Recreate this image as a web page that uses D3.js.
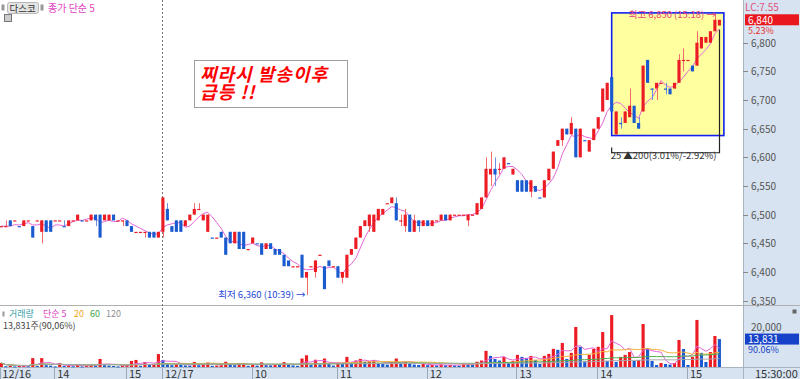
<!DOCTYPE html>
<html>
<head>
<meta charset="utf-8">
<title>다스코 3분봉</title>
<style>
  body, html { margin: 0; padding: 0; background: #fff; }
  #svg { display: block; }
</style>
</head>
<body>
<svg id="svg" width="800" height="379" font-family="'Noto Sans CJK KR', 'DejaVu Sans', sans-serif"></svg>
<script src="https://cdn.jsdelivr.net/npm/d3@7"></script>
<script>
// 3-minute candles, 12/16 afternoon to 12/17 15:21
const opens = [
  6480,6480,6490,6490,6480,6480,6490,6480,6490,6470,6490,6490,6490,6490,6480,6480,6490,6490,6490,6490,
  6490,6500,6500,6490,6490,6500,6490,6490,6490,6480,6470,6470,6470,6470,6470,6460,
  6470,6510,6480,6490,6490,6480,6490,6500,6510,6490,6470,6460,6460,6470,6460,6470,6450,6470,6470,6440,
  6450,6450,6450,6440,6450,6440,6440,6430,6420,6410,6410,6430,6390,6410,6400,6430,6410,6420,6410,6410,
  6390,6390,6430,6440,6460,6480,6480,6470,6490,6500,6520,6520,6520,6490,6480,6500,6470,6490,6480,6490,
  6480,6490,6490,6500,6490,6500,6500,6500,6490,6500,6500,6510,6530,6570,6580,6580,6580,6590,6570,6560,
  6560,6560,6540,6550,6530,6530,6560,6580,6620,6630,6650,6640,6650,6600,6630,6610,6630,6650,6680,6700,
  6740,6640,6660,6660,6670,6690,6660,6680,6770,6720,6720,6730,6720,6720,6720,6730,6770,6770,6760,6760,
  6790,6800,6800,6820,6830
];
const highs = [
  6480,6490,6490,6490,6480,6490,6490,6480,6490,6490,6490,6490,6490,6490,6490,6490,6490,6500,6490,6490,
  6500,6500,6500,6500,6500,6500,6490,6490,6490,6480,6470,6470,6470,6470,6470,6470,
  6530,6520,6480,6490,6490,6490,6500,6520,6520,6500,6500,6460,6460,6470,6460,6470,6470,6470,6470,6440,
  6460,6450,6450,6450,6450,6440,6440,6430,6420,6410,6410,6430,6400,6410,6420,6430,6410,6420,6410,6410,
  6400,6430,6440,6460,6480,6490,6500,6500,6510,6510,6520,6530,6530,6500,6510,6500,6500,6490,6490,6490,
  6490,6490,6500,6500,6500,6500,6500,6500,6500,6500,6520,6530,6600,6610,6600,6590,6600,6590,6580,6560,
  6560,6560,6560,6550,6530,6560,6580,6610,6630,6650,6650,6670,6650,6650,6630,6630,6650,6670,6720,6730,
  6740,6680,6670,6680,6720,6690,6670,6760,6770,6720,6730,6730,6730,6720,6730,6780,6790,6770,6760,6820,
  6810,6810,6820,6850,6840
];
const lows = [
  6480,6480,6480,6490,6480,6480,6490,6460,6490,6450,6470,6470,6490,6490,6480,6480,6490,6490,6490,6490,
  6490,6480,6460,6490,6490,6490,6490,6480,6480,6470,6470,6470,6460,6460,6460,6460,
  6460,6490,6470,6470,6470,6480,6490,6500,6510,6490,6470,6460,6460,6460,6430,6450,6450,6440,6440,6440,
  6450,6450,6430,6440,6440,6430,6430,6410,6410,6410,6410,6390,6360,6410,6390,6430,6370,6410,6410,6390,
  6380,6390,6430,6440,6460,6480,6470,6470,6490,6500,6520,6520,6490,6480,6470,6470,6470,6470,6480,6480,
  6480,6490,6490,6490,6490,6500,6500,6500,6480,6500,6500,6510,6530,6550,6550,6570,6580,6590,6570,6540,
  6540,6540,6530,6540,6530,6530,6560,6580,6620,6620,6640,6640,6600,6600,6630,6610,6630,6650,6680,6700,
  6680,6640,6650,6660,6670,6660,6650,6680,6730,6700,6700,6730,6710,6710,6720,6730,6750,6770,6750,6760,
  6790,6800,6800,6820,6830
];
const closes = [
  6480,6480,6480,6490,6480,6490,6490,6460,6490,6490,6470,6470,6490,6490,6480,6490,6490,6500,6490,6490,
  6500,6490,6460,6500,6500,6490,6490,6490,6480,6470,6470,6470,6470,6460,6460,6470,
  6530,6490,6470,6470,6470,6490,6500,6510,6510,6500,6500,6460,6460,6460,6430,6450,6470,6440,6440,6440,
  6460,6450,6430,6450,6440,6430,6430,6410,6410,6410,6410,6390,6400,6410,6420,6430,6370,6410,6410,6390,
  6400,6430,6440,6460,6480,6490,6500,6500,6510,6510,6520,6530,6490,6490,6500,6470,6490,6480,6490,6480,
  6490,6490,6500,6490,6500,6500,6500,6500,6500,6500,6520,6530,6580,6580,6570,6580,6600,6590,6580,6540,
  6540,6540,6560,6540,6530,6560,6580,6610,6630,6650,6640,6660,6600,6650,6630,6630,6650,6670,6720,6730,
  6680,6680,6660,6680,6690,6660,6650,6760,6730,6720,6730,6730,6720,6710,6730,6770,6770,6770,6750,6800,
  6810,6810,6820,6840,6840
];
const volumes = [
  2000,400,600,300,500,800,400,4400,500,4400,900,700,300,2000,500,800,400,1100,300,600,
  1000,700,4000,900,700,500,300,800,1000,3000,3500,600,2500,1200,1500,6400,
  3500,1800,900,1400,1200,800,700,2500,900,1200,2200,600,700,900,2600,1400,900,1900,2000,600,
  1100,700,2300,900,800,1200,1000,2400,1300,800,600,4200,5800,1000,3600,1200,4200,1500,700,2200,
  1800,5000,2200,3200,4000,2600,2800,3500,2000,1500,1200,2600,4200,2000,2600,1800,1200,1000,1500,900,
  1000,800,1200,900,1000,800,700,1800,1500,1200,2600,3200,8000,5500,4000,3200,5000,2000,3000,6000,
  5000,4500,5500,3500,1500,5500,6500,9000,8500,11900,4000,7000,19800,10000,2800,6000,9000,10000,17300,3000,
  25700,2500,5000,6000,7400,3000,3500,21300,9400,3000,1000,2000,1500,1200,2000,13400,8900,1000,5000,23300,
  7000,2500,7400,15358,13831
];
const tickIndex = [0, 12, 28, 36, 56, 75, 95, 115, 133, 153];
const tickLabels = ["12/16", "14", "15", "12/17", "10", "11", "12", "13", "14", "15"];
const priceTicks = [6350, 6400, 6450, 6500, 6550, 6600, 6650, 6700, 6750, 6800];
const volumeTicks = [20000];

const red = "#ec1c24", blue = "#1a5bd0";
const slots = 166;
const plotRight = 743;

const svg = d3.select('#svg');

const x = d3.scaleBand()
  .domain(d3.range(slots))
  .range([-0.24, plotRight + 0.4])
  .paddingInner(0.3);
const cx = i => x(i) + x.bandwidth() / 2;

const y = d3.scaleLinear().domain([6350, 6800]).range([300.6, 42.7]);
const yv = d3.scaleLinear().domain([0, 20000]).range([367, 326.6]);

const candles = closes.map((c, i) => ({
  i, o: opens[i], h: highs[i], l: lows[i], c,
  up: c > opens[i] || (c === opens[i] && (i === 0 || c >= closes[i - 1])),
  v: volumes[i],
  vUp: i === 0 || volumes[i] >= volumes[i - 1]
}));
const last = candles.length - 1;

// right axis panel and bottom time axis background
svg.append("rect").attr("x", plotRight).attr("y", 0).attr("width", 800 - plotRight).attr("height", 379).attr("fill", "#d7e3f0");
svg.append("rect").attr("x", 0).attr("y", 367.5).attr("width", 800).attr("height", 12).attr("fill", "#d7e3f0");
svg.append("line").attr("x1", plotRight + 0.5).attr("x2", plotRight + 0.5).attr("y1", 0).attr("y2", 379).attr("stroke", "#a8b4c2");
svg.append("line").attr("x1", 0).attr("x2", 800).attr("y1", 305.5).attr("y2", 305.5).attr("stroke", "#b0b0b0");
svg.append("line").attr("x1", 0).attr("x2", 800).attr("y1", 367.5).attr("y2", 367.5).attr("stroke", "#a8b4c2");

// day divider
svg.append("line")
  .attr("x1", Math.round(cx(36)) - 0.5).attr("x2", Math.round(cx(36)) - 0.5)
  .attr("y1", 0).attr("y2", 367)
  .attr("stroke", "#777").attr("stroke-dasharray", "2,2");

// range box annotation (last 25 candles)
const boxG = svg.append("g");
boxG.append("rect")
  .attr("x", cx(136)).attr("y", y(6852))
  .attr("width", cx(last) + 4.5 - cx(136)).attr("height", y(6638) - y(6852))
  .attr("fill", "#ffffa0").attr("stroke", "#1020f0").attr("stroke-width", 1.6);
boxG.append("path")
  .attr("d", `M${cx(136)},${y(6617)} V${y(6608)} H${Math.round(cx(last)) + 0.5} V${y(6823)}`)
  .attr("fill", "none").attr("stroke", "#222").attr("stroke-width", 1.2);
boxG.append("text")
  .attr("x", cx(136) - 1).attr("y", y(6600) + 1.5)
  .attr("font-size", 9.5).attr("fill", "#333")
  .text("25 ▲200(3.01%/-2.92%)");

// price MA5
const ma = (arr, n) => arr.map((_, i) => d3.mean(arr.slice(Math.max(0, i - n + 1), i + 1)));
const ma5 = ma(closes, 5);
svg.append("path")
  .datum(ma5)
  .attr("fill", "none").attr("stroke", "#e466d8").attr("stroke-width", 1)
  .attr("d", d3.line().x((d, i) => cx(i)).y(d => y(d)));

// candles
const cg = svg.append("g");
cg.selectAll("line").data(candles).join("line")
  .attr("x1", d => Math.round(cx(d.i)) + 0.5).attr("x2", d => Math.round(cx(d.i)) + 0.5)
  .attr("y1", d => y(d.h)).attr("y2", d => y(d.l))
  .attr("stroke", d => d.up ? "#f06a6a" : "#6a90e0");
cg.selectAll("rect").data(candles).join("rect")
  .attr("x", d => x(d.i)).attr("width", x.bandwidth())
  .attr("y", d => y(Math.max(d.o, d.c)))
  .attr("height", d => Math.max(1.2, Math.abs(y(d.o) - y(d.c))))
  .attr("fill", d => d.up ? red : blue);

// high / low labels
svg.append("text").attr("x", cx(159) + 1).attr("y", y(6850) + 4)
  .attr("text-anchor", "end").attr("font-size", 9.5).attr("fill", "#e8407a")
  .text("최고 6,850 (15:18) →");
svg.append("text").attr("x", cx(68) - 1).attr("y", y(6360) + 3)
  .attr("text-anchor", "end").attr("font-size", 9.5).attr("fill", "#2448d8")
  .text("최저 6,360 (10:39) →");

// news note
const note = svg.append("g");
note.append("rect").attr("x", 194.5).attr("y", 60.5).attr("width", 153).attr("height", 47)
  .attr("fill", "#fff").attr("stroke", "#a0a0a0");
note.selectAll("text").data(["찌라시 발송이후", "급등 !!"]).join("text")
  .attr("x", 200).attr("y", (d, i) => 81 + i * 18)
  .attr("font-size", 18).attr("letter-spacing", 1).attr("font-weight", "bold").attr("font-style", "italic")
  .attr("fill", "#ff0000")
  .text(d => d);

// volume bars, coloured by change against the previous bar
const vg = svg.append("g");
vg.selectAll("rect").data(candles).join("rect")
  .attr("x", d => x(d.i)).attr("width", x.bandwidth())
  .attr("y", d => yv(d.v)).attr("height", d => Math.max(1, yv(0) - yv(d.v)))
  .attr("fill", d => d.vUp ? red : blue);

const volMA = [[5, "#e466d8"], [20, "#f3b43c"], [60, "#4fb04f"], [120, "#a8a8a8"]];
volMA.forEach(([n, color]) => {
  svg.append("path").datum(ma(volumes, n))
    .attr("fill", "none").attr("stroke", color).attr("stroke-width", 1)
    .attr("d", d3.line().x((d, i) => cx(i)).y(d => yv(d)));
});

// price axis
const pa = svg.append("g").attr("font-size", 10).attr("fill", "#555");
pa.selectAll("line").data(priceTicks).join("line")
  .attr("x1", plotRight).attr("x2", plotRight + 5)
  .attr("y1", d => Math.round(y(d)) + 0.5).attr("y2", d => Math.round(y(d)) + 0.5)
  .attr("stroke", "#888");
pa.selectAll("text").data(priceTicks).join("text")
  .attr("x", plotRight + 8).attr("y", d => y(d) + 4)
  .text(d => d3.format(",")(d));

// volume axis
svg.selectAll(".vt").data(volumeTicks).join("text").attr("class", "vt")
  .attr("x", plotRight + 8).attr("y", d => yv(d) + 4)
  .attr("font-size", 10).attr("fill", "#555")
  .text(d => d3.format(",")(d));

// current value tags
svg.append("text").attr("x", plotRight + 2).attr("y", 10.5).attr("font-size", 10).attr("fill", "#e0507a").text("LC:7.55");
svg.append("rect").attr("x", plotRight + 2).attr("y", y(closes[last]) - 5.5).attr("width", 54).attr("height", 11).attr("fill", "#e8181e");
svg.append("text").attr("x", plotRight + 5).attr("y", y(closes[last]) + 4).attr("font-size", 10).attr("fill", "#fff").text(d3.format(",")(closes[last]));
svg.append("text").attr("x", plotRight + 5).attr("y", y(closes[last]) + 14).attr("font-size", 9).attr("fill", "#e83030").text("5.23%");

svg.append("rect").attr("x", plotRight + 2).attr("y", yv(volumes[last]) - 5.5).attr("width", 54).attr("height", 11).attr("fill", "#1542c8");
svg.append("text").attr("x", plotRight + 5).attr("y", yv(volumes[last]) + 4).attr("font-size", 10).attr("fill", "#fff").text(d3.format(",")(volumes[last]));
svg.append("text").attr("x", plotRight + 5).attr("y", yv(volumes[last]) + 14).attr("font-size", 9).attr("fill", "#1542c8").text("90.06%");

// time axis
const ta = svg.append("g").attr("font-size", 11).attr("fill", "#333");
ta.selectAll("line").data(tickIndex).join("line")
  .attr("x1", d => Math.round(cx(d)) - 0.5).attr("x2", d => Math.round(cx(d)) - 0.5)
  .attr("y1", 368).attr("y2", 379).attr("stroke", "#9aa8b8");
ta.selectAll("text").data(tickIndex).join("text")
  .attr("x", (d, i) => cx(d) + (i === 0 ? 1 : 2)).attr("y", 377.5)
  .text((d, i) => tickLabels[i]);
ta.append("text").attr("x", plotRight + 12).attr("y", 377.5).text("15:30:00");

// top-left titles
const tl = svg.append("g").attr("font-size", 10);
tl.append("rect").attr("x", 1.5).attr("y", 4.5).attr("width", 3).attr("height", 6).attr("fill", "#999");
tl.append("rect").attr("x", 7.5).attr("y", 2.5).attr("width", 31).attr("height", 11).attr("rx", 2)
  .attr("fill", "#e4e4e4").attr("stroke", "#b8b8b8");
tl.append("text").attr("x", 9.5).attr("y", 12).attr("fill", "#333").attr("font-size", 9.5).text("다스코");
tl.append("rect").attr("x", 40.5).attr("y", 4.5).attr("width", 3).attr("height", 6).attr("fill", "#999");
tl.append("text").attr("x", 48).attr("y", 12).attr("fill", "#e040c0").text("종가 단순 5");
tl.append("rect").attr("x", 4.5).attr("y", 14.5).attr("width", 7).attr("height", 7).attr("fill", "#ccc").attr("stroke", "#777");

// volume legend
const vl = svg.append("g").attr("font-size", 9);
vl.append("rect").attr("x", 2.5).attr("y", 311.5).attr("width", 2).attr("height", 5).attr("fill", "#999");
const legendItems = [["거래량", "#3a9fa8", 9], ["단순 5", "#e040c0", 43], ["20", "#f0a820", 74], ["60", "#40a848", 90], ["120", "#909090", 106]];
vl.selectAll("text.lg").data(legendItems).join("text").attr("class", "lg")
  .attr("x", d => d[2]).attr("y", 316.5).attr("fill", d => d[1]).text(d => d[0]);
vl.append("text").attr("x", 3).attr("y", 328.5).attr("fill", "#444").text("13,831주(90,06%)");
svg.append("rect").attr("x", 792.5).attr("y", 309.5).attr("width", 4).attr("height", 4).attr("fill", "#666");
</script>
</body>
</html>
